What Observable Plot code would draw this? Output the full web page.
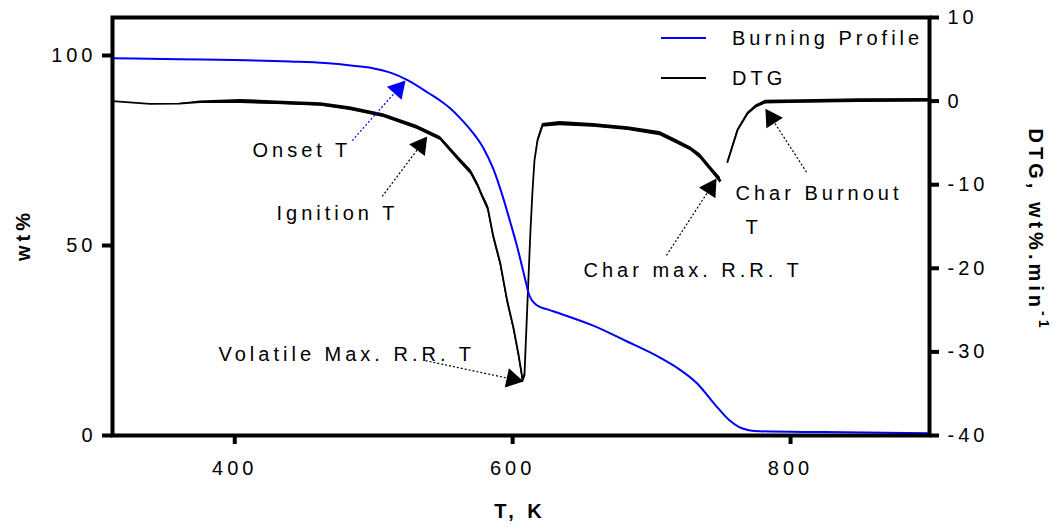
<!DOCTYPE html>
<html>
<head>
<meta charset="utf-8">
<script src="https://cdn.jsdelivr.net/npm/d3@7"></script>
<script src="https://cdn.jsdelivr.net/npm/@observablehq/plot@0.6"></script>
<style>
  html, body { margin: 0; padding: 0; background: #fff; }
</style>
</head>
<body>
<div id="chart"></div>
<script>
// ---------- data ----------
// TG (burning profile), wt% vs T (K)
const tgT  = [312, 360, 400, 440, 465, 485, 500, 512, 524, 540, 548, 555, 562, 570, 579, 586, 593.6, 598, 603.3, 609.2, 611.6, 614, 617.7, 625, 634, 658, 682, 706, 718, 733, 745, 756, 763, 770, 778, 824, 900];
const tgWt = [99.3, 99.0, 98.8, 98.4, 98.0, 97.3, 96.6, 95.5, 93.6, 90.0, 88.1, 86.1, 83.6, 80.3, 75.6, 70.2, 62.0, 56.5, 49.6, 40.8, 37.3, 35.5, 34.2, 33.2, 32.1, 28.9, 24.8, 20.5, 17.9, 13.6, 8.4, 4.0, 2.2, 1.4, 1.1, 0.9, 0.6];

// DTG, wt%/min vs T (K); noise = half-width of the noisy band
const dtgT     = [312, 339, 360, 375, 404, 430, 462, 483, 507, 531, 548, 562, 570, 575, 578, 582, 586, 591, 596, 600.6, 604, 606.4, 607.1, 608.5, 610.7, 612.8, 614.3, 615.7, 617.9, 621.5, 634, 658, 683, 706, 716, 728, 735, 744.5, 749.6, 752, 754.6, 761.8, 769, 775, 782, 807, 850, 900];
const dtgRate  = [0, -0.32, -0.3, -0.13, -0.05, -0.2, -0.41, -0.89, -1.73, -3.13, -4.47, -7.1, -8.5, -10.1, -11.3, -12.7, -16.1, -19.3, -23.8, -27.1, -30.1, -32.5, -33.4, -32.8, -23.9, -15.5, -10.7, -7.1, -4.7, -2.9, -2.7, -2.9, -3.3, -3.9, -4.7, -5.7, -6.6, -8.5, -9.5, null, -7.3, -3.5, -1.5, -0.65, -0.13, -0.05, 0.05, 0.1];
const dtgNoise = [0, 0, 0, 0.15, 0.25, 0.22, 0.22, 0.22, 0.22, 0.25, 0.25, 0.28, 0.3, 0.3, 0.3, 0.35, 0.35, 0.35, 0.35, 0.35, 0.35, 0.35, 0.35, 0.2, 0, 0, 0, 0.05, 0.15, 0.22, 0.25, 0.22, 0.22, 0.25, 0.25, 0.25, 0.3, 0.32, 0.35, 0, 0.1, 0.12, 0.15, 0.18, 0.22, 0.2, 0.22, 0.22];

// axes
const xTicks   = [400, 600, 800];
const wtTicks  = [0, 50, 100];
const dtgTicks = [-40, -30, -20, -10, 0, 10];
const xDomain  = [312, 900];
const wtDomain = [0, 110];
const dtgDomain = [-40, 10];

// annotations (T in K, y in wt%)
const annText  = ["Onset T", "Ignition T", "Volatile Max. R.R. T", "Char max. R.R. T", "Char Burnout", "T"];
const annTextT = [412.8, 430.0, 388.3, 651.0, 760.4, 767.6];
const annTextY = [75.0, 58.3, 21.4, 43.4, 63.6, 54.7];
const arrTailT = [484.5, 506.1, 537.3, 710.7, 811.5];
const arrTailY = [77.6, 62.9, 19.7, 47.4, 69.3];
const arrTipT  = [522.9, 538.5, 607.8, 746.7, 781.9];
const arrTipY  = [93.4, 78.7, 14.2, 67.6, 86.0];
const arrColor = ["#0000ff", "black", "black", "black", "black"];

// legend
const legendLabels = ["Burning Profile", "DTG"];
const legendColors = ["#0000ff", "black"];

// ---------- layout ----------
const W = 1064, H = 527, mL = 112, mR = 135, mT = 17, mB = 92;
const toLeft = d => (d - dtgDomain[0]) * (wtDomain[1] - wtDomain[0]) / (dtgDomain[1] - dtgDomain[0]) + wtDomain[0];
const fromLeft = v => Math.round((v - wtDomain[0]) * (dtgDomain[1] - dtgDomain[0]) / (wtDomain[1] - wtDomain[0]) + dtgDomain[0]);

const sx = t => mL + (t - xDomain[0]) / (xDomain[1] - xDomain[0]) * (W - mL - mR);
const sy = v => H - mB - (v - wtDomain[0]) / (wtDomain[1] - wtDomain[0]) * (H - mT - mB);
const ix = p => xDomain[0] + (p - mL) / (W - mL - mR) * (xDomain[1] - xDomain[0]);
const iy = p => wtDomain[0] + (H - mB - p) / (H - mT - mB) * (wtDomain[1] - wtDomain[0]);

const tg = tgT.map((t, i) => ({t, wt: tgWt[i]}));
const dtg = dtgT.map((t, i) => ({
  t,
  y: dtgRate[i] == null ? NaN : toLeft(dtgRate[i]),
  y1: dtgRate[i] == null ? NaN : toLeft(dtgRate[i] - dtgNoise[i]),
  y2: dtgRate[i] == null ? NaN : toLeft(dtgRate[i] + dtgNoise[i])
}));

const headR = 7.3;
const a = headR * Math.sqrt(Math.PI / (3 * Math.sqrt(3)));
const arrows = arrTailT.map((_, i) => {
  const x0 = sx(arrTailT[i]), y0 = sy(arrTailY[i]);
  const x1 = sx(arrTipT[i]), y1 = sy(arrTipY[i]);
  const len = Math.hypot(x1 - x0, y1 - y0);
  const ux = (x1 - x0) / len, uy = (y1 - y0) / len;
  return {
    tx: arrTailT[i], ty: arrTailY[i],
    bx: ix(x1 - ux * 3 * a), by: iy(y1 - uy * 3 * a),
    cx: ix(x1 - ux * 2 * a), cy: iy(y1 - uy * 2 * a),
    rot: Math.atan2(ux, -uy) * 180 / Math.PI,
    color: arrColor[i]
  };
});
const anns = annText.map((s, i) => ({s, t: annTextT[i], y: annTextY[i]}));

const font = "'Liberation Sans', Arial, Helvetica, sans-serif";

const chart = Plot.plot({
  width: W, height: H,
  marginLeft: mL, marginRight: mR, marginTop: mT, marginBottom: mB,
  style: `font-family: ${font}; font-size: 20px; color: black; background: white; letter-spacing: 4px; overflow: visible;`,
  x: {domain: xDomain},
  y: {domain: wtDomain},
  marks: [
    Plot.axisX({ticks: xTicks, tickSize: 9, strokeWidth: 4, tickPadding: 16, label: null, fontSize: 20, tickFormat: d => String(d)}),
    Plot.axisY({ticks: wtTicks, tickSize: 10, strokeWidth: 4, tickPadding: 6, label: null, fontSize: 20, tickFormat: d => String(d)}),
    Plot.axisY({anchor: "right", ticks: dtgTicks.map(toLeft), tickFormat: v => String(fromLeft(v)), tickSize: 9, strokeWidth: 4, tickPadding: 9, label: null, fontSize: 20}),
    Plot.areaY(dtg, {x: "t", y1: "y1", y2: "y2", fill: "black"}),
    Plot.line(dtg, {x: "t", y: "y", stroke: "black", strokeWidth: 1.8}),
    Plot.line(tg, {x: "t", y: "wt", stroke: "#0000ff", strokeWidth: 2, curve: "monotone-x"}),
    Plot.frame({stroke: "black", strokeWidth: 4}),
    Plot.link(arrows, {x1: "tx", y1: "ty", x2: "bx", y2: "by", stroke: "color", strokeWidth: 1.2, strokeDasharray: "2,2"}),
    Plot.dot(arrows, {x: "cx", y: "cy", symbol: "triangle", r: headR, fill: "color", stroke: null, rotate: "rot"}),
    Plot.text(anns, {x: "t", y: "y", text: "s", textAnchor: "start", lineAnchor: "middle", fontSize: 20, fill: "black"})
  ]
});

const svg = d3.select(chart);
// legend (inside the plot, top right)
const leg = svg.append("g").attr("font-family", font).attr("font-size", 20).attr("letter-spacing", "4px").attr("text-anchor", "start");
legendLabels.forEach((lab, i) => {
  const yy = 38 + i * 40;
  leg.append("line").attr("x1", 661).attr("x2", 706).attr("y1", yy).attr("y2", yy).attr("stroke", legendColors[i]).attr("stroke-width", 2);
  leg.append("text").attr("x", 732).attr("y", yy + 2).attr("dominant-baseline", "middle").attr("text-anchor", "start").attr("fill", "black").text(lab);
});

// axis titles
const tt = svg.append("g").attr("font-family", font).attr("font-size", 20).attr("font-weight", "bold").attr("letter-spacing", "4px").attr("fill", "black");
tt.append("text").attr("text-anchor", "middle").attr("dominant-baseline", "middle")
  .attr("transform", "translate(25,235) rotate(-90)").text("wt%");
tt.append("text").attr("text-anchor", "middle").attr("x", 520).attr("y", 518).text("T, K");
const rt = tt.append("text").attr("text-anchor", "middle").attr("dominant-baseline", "middle")
  .attr("transform", "translate(1034,230) rotate(90)");
rt.append("tspan").text("DTG, wt%.min");
rt.append("tspan").attr("dy", -9).attr("font-size", 14).text("-1");

document.getElementById("chart").appendChild(chart);
</script>
</body>
</html>
